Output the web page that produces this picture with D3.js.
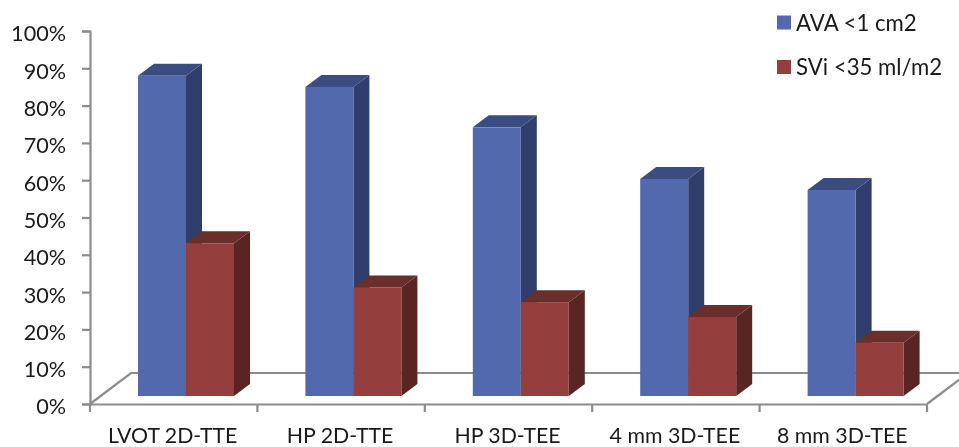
<!DOCTYPE html>
<html>
<head>
<meta charset="utf-8">
<script src="https://cdn.jsdelivr.net/npm/d3@7"></script>
<style>
  html, body { margin: 0; padding: 0; background: #fff; }
  svg { display: block; filter: blur(0.5px); }
  text { font-family: Lato, "Open Sans", sans-serif; fill: #1a1a1a; }
</style>
</head>
<body>
<div id="chart"></div>
<script>
// values
const categories = ["LVOT 2D-TTE", "HP 2D-TTE", "HP 3D-TEE", "4 mm 3D-TEE", "8 mm 3D-TEE"];
const avaValues = [87, 84, 73, 59, 56];
const sviValues = [41.5, 29.5, 25.5, 21.5, 14.5];
const seriesNames = ["AVA <1 cm2", "SVi <35 ml/m2"];
const yTicks = [0, 10, 20, 30, 40, 50, 60, 70, 80, 90, 100];

const width = 959;
const height = 447;

const colors = [
    { front: "#5269ad", side: "#2f3e6c", top: "#3a4c80" },
    { front: "#943f3d", side: "#582522", top: "#6a2e2b" }
];

const svg = d3.select("#chart").append("svg")
    .attr("width", width)
    .attr("height", height);

// axis plane and bar plane sit at different depths
const axisBottom = 404;
const x = d3.scaleBand().domain(categories).range([90, 927]);
const yAxisScale = d3.scaleLinear().domain([0, 100]).range([axisBottom, 31]);
const yBar = d3.scaleLinear().domain([0, 100]).range([396, 28]);

const barW = 48;
const depthX = 16;
const depthY = 12;
const floorX = 41;
const floorY = 31;

// floor outline behind the bars
const axisColor = "#8c8c8c";
svg.append("path")
    .attr("d", `M90,${axisBottom}L${90 + floorX},${axisBottom - floorY}L959,${axisBottom - floorY}`)
    .attr("fill", "none")
    .attr("stroke", axisColor)
    .attr("stroke-width", 2.2);
svg.append("path")
    .attr("d", `M927,${axisBottom}L${927 + floorX},${axisBottom - floorY}`)
    .attr("fill", "none")
    .attr("stroke", axisColor)
    .attr("stroke-width", 2.2);

function drawBars(values, col, offset) {
    let g = svg.append("g");
    categories.forEach((c, i) => {
        let x0 = x(c) + 48 + offset;
        let x1 = x0 + barW;
        let yTop = yBar(values[i]);
        let yBase = yBar(0);
        g.append("path") // side
            .attr("d", `M${x1},${yTop}L${x1 + depthX},${yTop - depthY}L${x1 + depthX},${yBase - depthY}L${x1},${yBase}Z`)
            .attr("fill", col.side);
        g.append("path") // top
            .attr("d", `M${x0},${yTop}L${x0 + depthX},${yTop - depthY}L${x1 + depthX},${yTop - depthY}L${x1},${yTop}Z`)
            .attr("fill", col.top);
        g.append("rect")
            .attr("x", x0)
            .attr("y", yTop)
            .attr("width", barW)
            .attr("height", yBase - yTop)
            .attr("fill", col.front);
    });
}

drawBars(avaValues, colors[0], 0);
drawBars(sviValues, colors[1], barW);

// axes
let yAxis = d3.axisLeft(yAxisScale)
    .tickValues(yTicks)
    .tickFormat(d => d + "%")
    .tickSize(8)
    .tickPadding(16);
let yG = svg.append("g")
    .attr("transform", "translate(90,0)")
    .call(yAxis);
yG.selectAll("path, line").attr("stroke", axisColor).attr("stroke-width", 2.2);
yG.selectAll("text")
    .attr("font-size", 21.6)
    .attr("dy", "0.46em")
    .style("text-anchor", "end");

let xAxis = d3.axisBottom(x)
    .tickSize(0)
    .tickPadding(24);
let xG = svg.append("g")
    .attr("transform", `translate(0,${axisBottom})`)
    .call(xAxis);
xG.selectAll("path").attr("stroke", axisColor).attr("stroke-width", 2.2);
xG.selectAll("text").attr("font-size", 21.3).attr("dx", -1);
// ticks fall between the categories
xG.selectAll(".sep")
    .data(categories.concat(["end"]))
    .enter().append("line")
    .attr("class", "sep")
    .attr("x1", (d, i) => i < categories.length ? x(d) : 927)
    .attr("x2", (d, i) => i < categories.length ? x(d) : 927)
    .attr("y1", 0)
    .attr("y2", 8)
    .attr("stroke", axisColor)
    .attr("stroke-width", 2.2);

// legend
const legend = svg.append("g")
    .selectAll("g")
    .data(seriesNames)
    .enter().append("g")
    .attr("transform", (d, i) => `translate(777,${15.5 + i * 44.5})`);
legend.append("rect")
    .attr("width", 14)
    .attr("height", 14)
    .attr("fill", (d, i) => colors[i].front);
legend.append("text")
    .attr("x", 19)
    .attr("y", 15)
    .attr("font-size", 22.2)
    .text(d => d);
</script>
</body>
</html>
